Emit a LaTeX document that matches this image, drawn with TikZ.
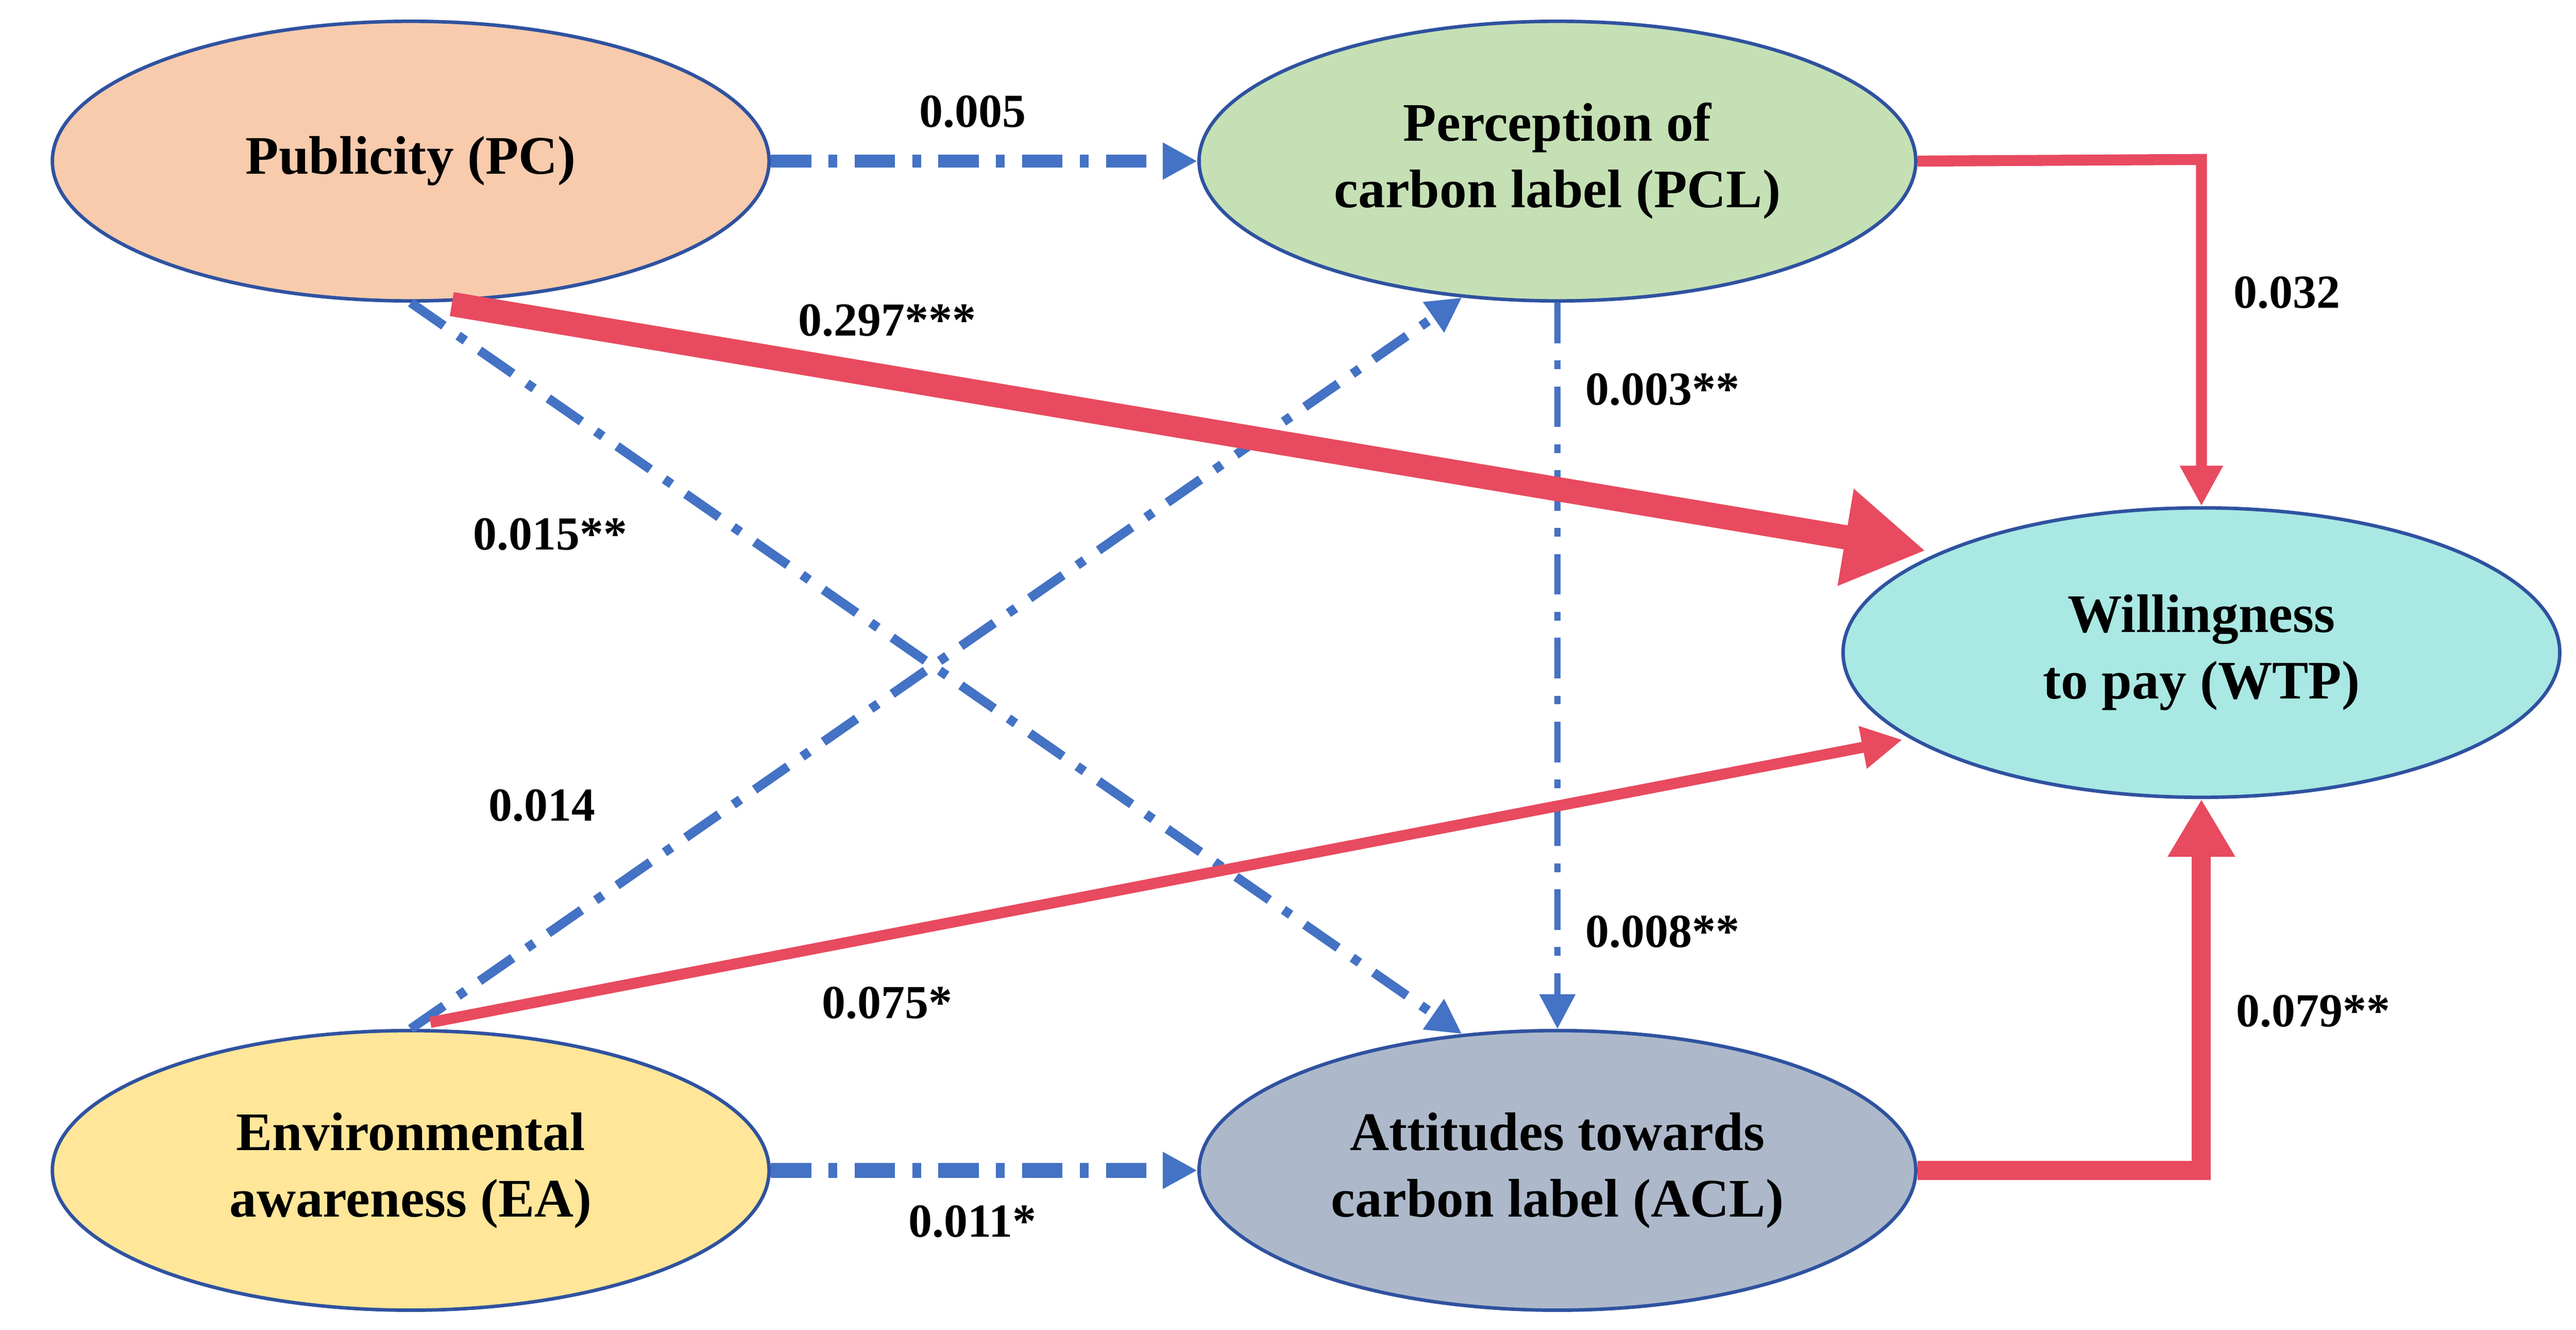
\documentclass[tikz,border=0pt]{standalone}
\usepackage{fontspec}
\setmainfont{Liberation Serif}
\usetikzlibrary{arrows.meta,shapes.geometric}
\definecolor{bl}{HTML}{4472C4}
\definecolor{rd}{HTML}{E84A5F}
\definecolor{bd}{HTML}{2F52A0}
\begin{document}
\begin{tikzpicture}[x=0.01cm,y=-0.01cm,
 ell/.style={draw=bd,line width=0.6pt,ellipse,minimum width=4.36cm,minimum height=1.7cm,align=center,font=\fontsize{9.4}{11.5}\selectfont\bfseries,inner sep=0pt},
 lab/.style={font=\fontsize{8.2}{10}\selectfont\bfseries},
 bdd/.style={draw=bl,dash pattern=on 7pt off 3pt on 1.5pt off 3pt,-{Triangle[length=6pt,width=6pt]}},
 rdd/.style={draw=rd,-{Triangle[length=7pt,width=7pt]}}]
\useasboundingbox[fill=white] (0,0) rectangle (1568,809);
\node[ell,fill={rgb,255:red,248;green,203;blue,173}] (PC) at (250,98) {Publicity (PC)};
\node[ell,fill={rgb,255:red,197;green,224;blue,180}] (PCL) at (948,98) {Perception of\\carbon label (PCL)};
\node[ell,fill={rgb,255:red,169;green,232;blue,227},minimum height=1.76cm] (WTP) at (1340,397) {Willingness\\to pay (WTP)};
\node[ell,fill={rgb,255:red,255;green,230;blue,153}] (EA) at (250,712) {Environmental\\awareness (EA)};
\node[ell,fill={rgb,255:red,173;green,185;blue,202}] (ACL) at (948,712) {Attitudes towards\\carbon label (ACL)};
\coordinate (wtpA) at (1172,335);
\coordinate (wtpB) at (1158,450);
\coordinate (pcS) at (275,185);
\coordinate (eaN) at (262,622);
\coordinate (c1) at (1340,97);
\coordinate (c2) at (1340,712);
% blue dash-dot
\draw[bdd,line width=2.2pt] (PC.east) -- (PCL.west);
\draw[bdd,line width=2.6pt] (EA.east) -- (ACL.west);
\draw[bdd,line width=1.6pt] (PC.south) -- (ACL.125);
\draw[bdd,line width=1.6pt] (EA.north) -- (PCL.235);
\draw[bdd,line width=1.1pt] (PCL.south) -- (ACL.north);
% red
\draw[rd,line width=4.2pt,-{Triangle[length=14pt,width=16pt]}] (pcS) -- (wtpA);
\draw[rdd,line width=1.9pt] (eaN) -- (wtpB);
\draw[rdd,line width=1.9pt] (PCL.east) -- (c1) -- (WTP.north);
\draw[rd,line width=3.3pt,-{Triangle[length=10pt,width=11pt]}] (ACL.east) -- (c2) -- (WTP.south);
% labels
\node[lab] at (592,68) {0.005};
\node[lab] at (540,195) {0.297***};
\node[lab] at (335,325) {0.015**};
\node[lab] at (330,490) {0.014};
\node[lab] at (540,610) {0.075*};
\node[lab] at (1012,237) {0.003**};
\node[lab] at (1012,567) {0.008**};
\node[lab] at (1392,178) {0.032};
\node[lab] at (1408,615) {0.079**};
\node[lab] at (592,743) {0.011*};
\end{tikzpicture}
\end{document}
